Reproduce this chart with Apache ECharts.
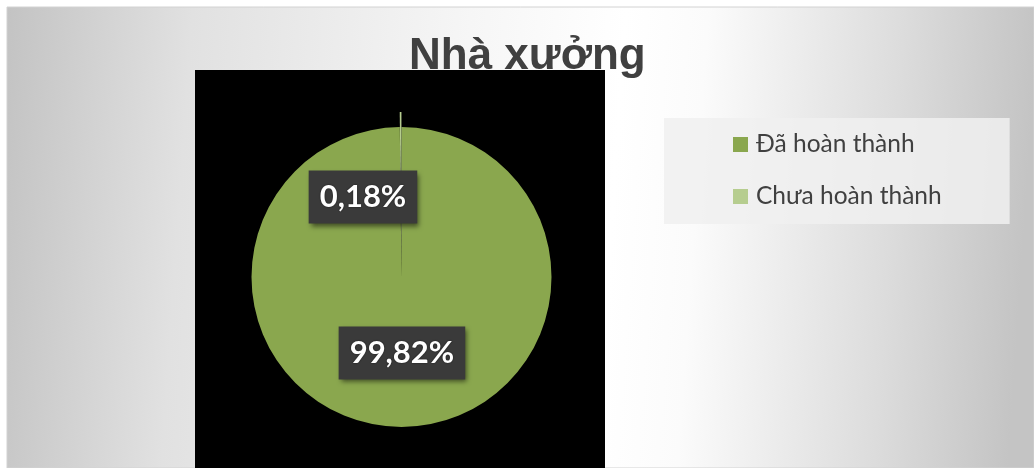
<!DOCTYPE html>
<html>
<head>
<meta charset="utf-8">
<script src="https://cdn.jsdelivr.net/npm/echarts@6/dist/echarts.min.js"></script>
<style>
  html, body { margin: 0; padding: 0; background: #fff; }
  #main { width: 1034px; height: 468px; }
</style>
</head>
<body>
<div id="main"></div>
<script>
"use strict";

// dữ liệu biểu đồ
const categories = ['Đã hoàn thành', 'Chưa hoàn thành'];
const values = [99.82, 0.18];
const colors = ['#8aa74e', '#b6cd8f'];
const explodedIndex = 1;

let myChart = echarts.init(document.getElementById('main'));

let pieData = categories.map(function (name, i) {
  return {
    name: name,
    value: values[i],
    selected: i === explodedIndex,
    itemStyle: { color: colors[i] },
  };
});

let option = {
  animation: false,
  backgroundColor: '#fff',
  graphic: {
    elements: [
      {
        type: 'rect',
        z: -10,
        shape: { x: 7, y: 7, width: 1027, height: 461 },
        style: {
          fill: new echarts.graphic.LinearGradient(0, 0, 1, 0.15, [
            { offset: 0, color: '#c3c3c3' },
            { offset: 0.18, color: '#e1e1e1' },
            { offset: 0.45, color: '#f6f6f6' },
            { offset: 0.6, color: '#ffffff' },
            { offset: 0.68, color: '#fbfbfb' },
            { offset: 0.87, color: '#dcdcdc' },
            { offset: 1, color: '#c4c4c4' },
          ]),
          stroke: '#d2d2d2',
          lineWidth: 1,
        },
      },
      {
        type: 'rect',
        z: 1,
        shape: { x: 195, y: 70, width: 410, height: 400 },
        style: { fill: '#000' },
      },
    ],
  },
  title: {
    text: 'Nhà xưởng',
    left: 404,
    top: 30,
    z: 0,
    textStyle: {
      fontFamily: 'Liberation Sans',
      fontSize: 44,
      fontWeight: 'bold',
      color: '#404040',
    },
  },
  legend: {
    orient: 'vertical',
    left: 664,
    top: 118,
    padding: [14, 68, 15, 69],
    backgroundColor: 'rgba(240,240,240,0.85)',
    icon: 'rect',
    itemWidth: 15,
    itemHeight: 15,
    itemGap: 27,
    selectedMode: false,
    data: categories,
    textStyle: {
      fontFamily: 'Lato',
      fontSize: 24.5,
      color: '#404040',
      padding: [0, 0, 0, 3],
    },
  },
  series: [
    {
      name: 'Nhà xưởng',
      type: 'pie',
      z: 3,
      center: [401.5, 277],
      radius: 150,
      startAngle: 90,
      clockwise: true,
      selectedMode: 'single',
      selectedOffset: 15,
      itemStyle: { borderWidth: 0 },
      emphasis: { disabled: true },
      label: {
        show: true,
        position: 'inside',
        formatter: function (p) {
          return p.value.toFixed(2).replace('.', ',') + '%';
        },
        fontFamily: 'Lato',
        fontWeight: 'bold',
        fontSize: 31,
        color: '#fff',
        textShadowColor: 'rgba(0,0,0,0.6)',
        textShadowBlur: 2,
        backgroundColor: '#3a3a3a',
        padding: [11, 11],
        shadowColor: 'rgba(0,0,0,0.55)',
        shadowBlur: 5,
        shadowOffsetX: 2,
        shadowOffsetY: 3,
      },
      labelLine: { show: false },
      labelLayout: function (params) {
        if (params.dataIndex === explodedIndex) {
          return { dx: -38, dy: 13 };
        }
        return { dy: -2 };
      },
      data: pieData,
    },
  ],
};

myChart.setOption(option);
</script>
</body>
</html>
